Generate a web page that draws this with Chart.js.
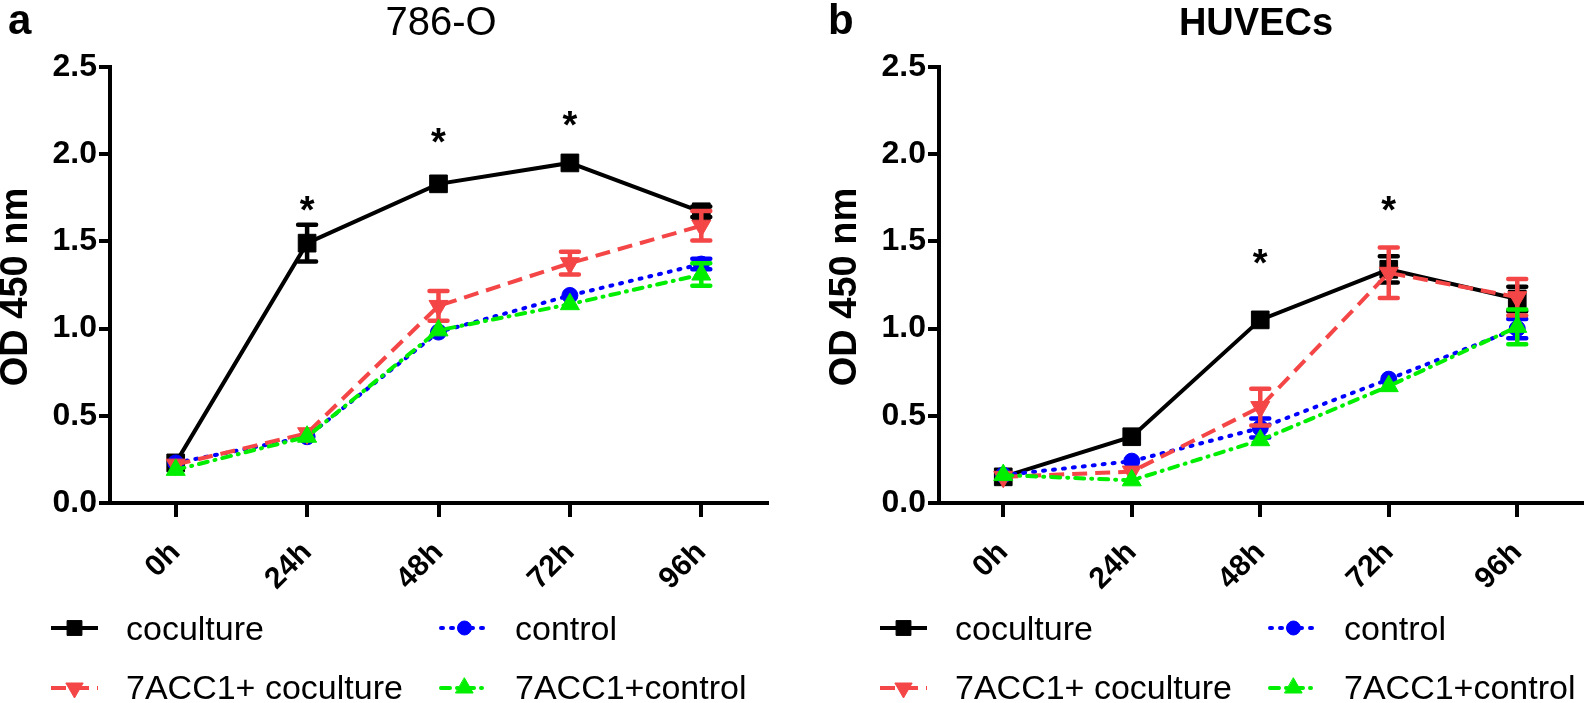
<!DOCTYPE html>
<html lang="en">
<head>
<meta charset="UTF-8">
<title>786-O / HUVECs - OD 450 nm</title>
<script src="https://cdn.jsdelivr.net/npm/chart.js"></script>
<style>
    body { margin: 0; background: #fff; }
    #wrap { position: relative; width: 1595px; height: 703px; overflow: hidden; }
    #wrap canvas { position: absolute; top: 0; }
</style>
</head>
<body>
<div id="wrap">
    <canvas id="chartA" width="815" height="703" style="left:0px"></canvas>
    <canvas id="chartB" width="780" height="703" style="left:815px"></canvas>
</div>
<script>
    // categories / ticks
    const categories = ['0h', '24h', '48h', '72h', '96h'];
    const yTicks = [0, 0.5, 1.0, 1.5, 2.0, 2.5];
    const seriesNames = ['coculture', 'control', '7ACC1+ coculture', '7ACC1+control'];

    // panel a : 786-O
    const cocultureA    = [0.23, 1.49, 1.83, 1.95, 1.67];
    const cocultureErrA = [0, 0.105, 0, 0, 0.03];
    const controlA      = [0.23, 0.38, 0.98, 1.19, 1.37];
    const controlErrA   = [0, 0, 0, 0, 0.03];
    const accCocA       = [0.22, 0.40, 1.13, 1.375, 1.59];
    const accCocErrA    = [0, 0, 0.085, 0.065, 0.085];
    const accCtrlA      = [0.19, 0.38, 0.99, 1.14, 1.31];
    const accCtrlErrA   = [0, 0, 0, 0, 0.065];
    const starsA        = [null, 1.73, 2.12, 2.22, null];

    // panel b : HUVECs
    const cocultureB    = [0.15, 0.38, 1.05, 1.34, 1.17];
    const cocultureErrB = [0, 0, 0, 0.075, 0.07];
    const controlB      = [0.16, 0.24, 0.43, 0.71, 1.00];
    const controlErrB   = [0, 0, 0.055, 0, 0.055];
    const accCocB       = [0.15, 0.18, 0.55, 1.32, 1.18];
    const accCocErrB    = [0, 0, 0.105, 0.145, 0.105];
    const accCtrlB      = [0.16, 0.13, 0.36, 0.67, 1.01];
    const accCtrlErrB   = [0, 0, 0, 0, 0.1];
    const starsB        = [null, null, 1.43, 1.73, null];

    const FONT = "'Liberation Sans', Arial, sans-serif";

    // line / marker styles for the 4 series
    const seriesStyles = [
        { color: '#000000', dash: [],             cap: 'butt',  pointStyle: 'rect',     radius: 12.5, rotation: 0,   legendRadius: 10.5 },
        { color: '#0000ff', dash: [2, 8],         cap: 'round', pointStyle: 'circle',   radius: 8,    rotation: 0,   legendRadius: 7 },
        { color: '#f44646', dash: [15, 8],        cap: 'butt',  pointStyle: 'triangle', radius: 11,   rotation: 180, legendRadius: 10 },
        { color: '#00ee00', dash: [9, 7, 1, 7],   cap: 'round', pointStyle: 'triangle', radius: 11,   rotation: 0,   legendRadius: 10 }
    ];

    function makeDatasets(values, errors) {
        return values.map((vals, i) => {
            const s = seriesStyles[i];
            return {
                label: seriesNames[i],
                data: vals,
                errors: errors[i],
                borderColor: s.color,
                backgroundColor: s.color,
                borderWidth: 4,
                borderDash: s.dash,
                borderCapStyle: s.cap,
                pointStyle: s.pointStyle,
                pointRadius: s.radius,
                pointRotation: s.rotation,
                pointBorderWidth: 1,
                pointBackgroundColor: s.color,
                pointBorderColor: s.color,
                tension: 0,
                fill: false,
                order: 3 - i // later series drawn on top
            };
        });
    }

    // error bars, title, letter, y label, stars and legend
    const panelPlugin = {
        id: 'panelText',
        afterDatasetDraw(chart, args) {
            const ds = chart.data.datasets[args.index];
            if (!ds.errors) return;
            const ctx = chart.ctx;
            const y = chart.scales.y;
            ctx.save();
            ctx.strokeStyle = ds.borderColor;
            ctx.lineWidth = 4.5;
            ctx.lineCap = 'round';
            ctx.setLineDash([]);
            args.meta.data.forEach((pt, i) => {
                const e = ds.errors[i];
                if (!e) return;
                const top = y.getPixelForValue(ds.data[i] + e);
                const bot = y.getPixelForValue(ds.data[i] - e);
                ctx.beginPath();
                ctx.moveTo(pt.x, top); ctx.lineTo(pt.x, bot);
                ctx.moveTo(pt.x - 9, top); ctx.lineTo(pt.x + 9, top);
                ctx.moveTo(pt.x - 9, bot); ctx.lineTo(pt.x + 9, bot);
                ctx.stroke();
            });
            ctx.restore();
        },
        afterDraw(chart, args, opts) {
            const ctx = chart.ctx;
            const area = chart.chartArea;
            const x = chart.scales.x, y = chart.scales.y;
            ctx.save();
            ctx.fillStyle = '#000';

            // panel letter
            ctx.textAlign = 'left';
            ctx.textBaseline = 'alphabetic';
            ctx.font = 'bold 42px ' + FONT;
            ctx.fillText(opts.letter, opts.letterX, 34);

            // title
            ctx.textAlign = 'center';
            ctx.font = (opts.titleBold ? 'bold 38px ' : '40px ') + FONT;
            ctx.fillText(opts.title, opts.titleX, 35);

            // y axis title
            ctx.save();
            ctx.translate(area.left - 93, 287);
            ctx.rotate(-Math.PI / 2);
            ctx.textBaseline = 'middle';
            ctx.font = 'bold 38px ' + FONT;
            ctx.fillText('OD 450 nm', 0, 0);
            ctx.restore();

            // significance stars
            ctx.font = 'bold 38px ' + FONT;
            ctx.textAlign = 'center';
            opts.stars.forEach((v, i) => {
                if (v == null) return;
                ctx.fillText('*', x.getPixelForValue(i), y.getPixelForValue(v) + 22);
            });

            // legend, 2 columns x 2 rows
            const colSample = [area.left - 59, area.left + 331];
            const colText = [area.left + 16, area.left + 405];
            const rowBase = [640, 699];
            const rowLine = [628, 688];
            seriesNames.forEach((name, i) => {
                const s = seriesStyles[i];
                const col = i % 2, row = Math.floor(i / 2);
                const sx = colSample[col], sy = rowLine[row];
                ctx.save();
                ctx.strokeStyle = s.color;
                ctx.fillStyle = s.color;
                ctx.lineWidth = 4;
                ctx.lineCap = s.cap;
                ctx.setLineDash(s.dash);
                ctx.beginPath();
                ctx.moveTo(sx, sy);
                ctx.lineTo(sx + 47, sy);
                ctx.stroke();
                ctx.setLineDash([]);
                ctx.lineWidth = 1;
                Chart.helpers.drawPoint(ctx, {
                    pointStyle: s.pointStyle,
                    rotation: s.rotation,
                    radius: s.legendRadius,
                    borderWidth: 1
                }, sx + 23.5, sy);
                ctx.restore();
                ctx.textAlign = 'left';
                ctx.textBaseline = 'alphabetic';
                ctx.font = '34px ' + FONT;
                ctx.fillText(name, colText[col], rowBase[row]);
            });
            ctx.restore();
        }
    };

    function makeChart(canvasId, datasets, axisX, chartRight, panelOpts) {
        const canvas = document.getElementById(canvasId);
        return new Chart(canvas.getContext('2d'), {
            type: 'line',
            data: { labels: categories, datasets: datasets },
            options: {
                responsive: false,
                animation: false,
                layout: { padding: { top: 67, right: canvas.width - chartRight, bottom: 0, left: 0 } },
                plugins: {
                    legend: { display: false },
                    tooltip: { enabled: false },
                    panelText: panelOpts
                },
                scales: {
                    x: {
                        type: 'category',
                        offset: true,
                        afterFit: s => { s.height = 200; },
                        grid: { drawOnChartArea: false, drawTicks: true, tickLength: 14, lineWidth: 4, color: '#000' },
                        border: { display: true, width: 4, color: '#000' },
                        ticks: {
                            color: '#000',
                            font: { family: FONT, size: 30, weight: 'bold' },
                            minRotation: 45,
                            maxRotation: 45,
                            padding: 18
                        }
                    },
                    y: {
                        min: 0,
                        max: 2.5,
                        afterFit: s => { s.width = axisX; },
                        afterBuildTicks: s => { s.ticks = yTicks.map(v => ({ value: v })); },
                        grid: { drawOnChartArea: false, drawTicks: true, tickLength: 11, lineWidth: 4, color: '#000' },
                        border: { display: true, width: 4, color: '#000' },
                        ticks: {
                            color: '#000',
                            font: { family: FONT, size: 32, weight: 'bold' },
                            padding: 2,
                            callback: v => Number(v).toFixed(1)
                        }
                    }
                }
            },
            plugins: [panelPlugin]
        });
    }

    window.onload = function () {
        makeChart('chartA',
            makeDatasets([cocultureA, controlA, accCocA, accCtrlA],
                         [cocultureErrA, controlErrA, accCocErrA, accCtrlErrA]),
            110, 767,
            { letter: 'a', letterX: 8, title: '786-O', titleBold: false, titleX: 441, stars: starsA });
        makeChart('chartB',
            makeDatasets([cocultureB, controlB, accCocB, accCtrlB],
                         [cocultureErrB, controlErrB, accCocErrB, accCtrlErrB]),
            124, 780,
            { letter: 'b', letterX: 13, title: 'HUVECs', titleBold: true, titleX: 441, stars: starsB });
    };
</script>
</body>
</html>
